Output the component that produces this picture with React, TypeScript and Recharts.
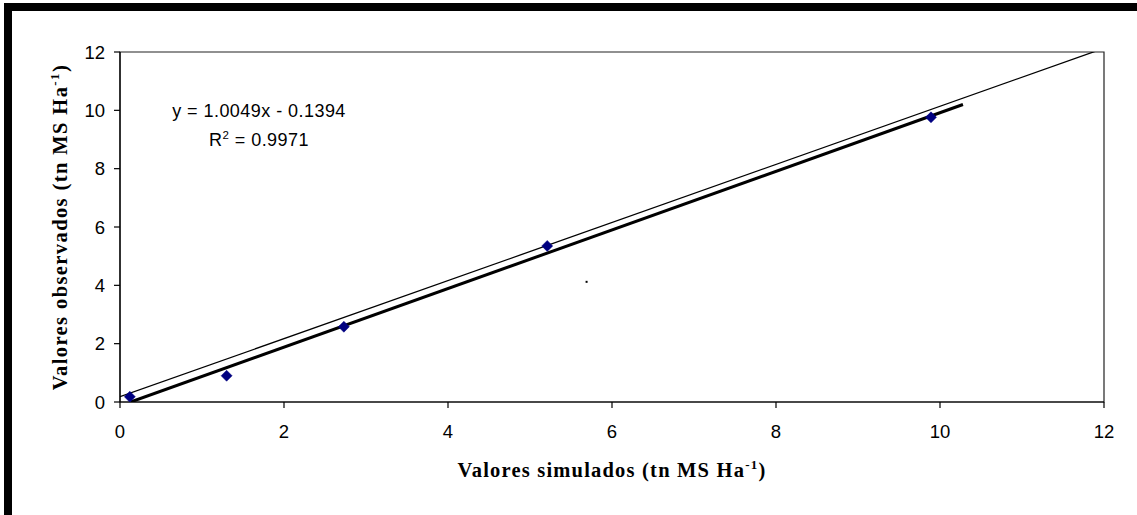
import React from "react";
import {
  ComposedChart,
  Scatter,
  XAxis,
  YAxis,
  ReferenceArea,
  Label,
} from "recharts";

const xTicks = [0, 2, 4, 6, 8, 10, 12];
const yTicks = [0, 2, 4, 6, 8, 10, 12];

const observed = [
  { x: 0.12, y: 0.18 },
  { x: 1.3, y: 0.9 },
  { x: 2.73, y: 2.58 },
  { x: 5.21, y: 5.35 },
  { x: 9.89, y: 9.76 },
];

const trendLine = [
  { x: 0.13, y: 0.0 },
  { x: 10.28, y: 10.2 },
];

const thinLine = [
  { x: 0.0, y: 0.18 },
  { x: 11.95, y: 12.08 },
];

const strayDot = [{ x: 5.69, y: 4.12 }];

const equationText = "y = 1.0049x - 0.1394";
const r2Value = "0.9971";

const SANS = "'Liberation Sans', Arial, sans-serif";
const SERIF = "'Liberation Serif', 'Times New Roman', serif";

const Diamond = (props: any) => {
  const { cx, cy } = props;
  if (cx == null || cy == null) return <g />;
  const r = 5.5;
  return (
    <path
      d={`M${cx},${cy - r} L${cx + r},${cy} L${cx},${cy + r} L${cx - r},${cy} Z`}
      fill="#000080"
      stroke="#000080"
      strokeWidth={0.5}
    />
  );
};

const NoShape = () => <g />;

const TinyDot = (props: any) => {
  const { cx, cy } = props;
  if (cx == null || cy == null) return <g />;
  return <rect x={cx - 1} y={cy - 1} width={2} height={2} fill="#000" />;
};

const XLabel = (props: any) => {
  const vb = props.viewBox || {};
  const cx = vb.x + vb.width / 2;
  return (
    <text
      x={cx}
      y={477}
      textAnchor="middle"
      fontFamily={SERIF}
      fontWeight="bold"
      fontSize={20.5}
      letterSpacing={1.2}
      fill="#000"
    >
      Valores simulados (tn MS Ha
      <tspan dy={-8} fontSize={13}>
        -1
      </tspan>
      <tspan dy={8}>)</tspan>
    </text>
  );
};

const YLabel = (props: any) => {
  const vb = props.viewBox || {};
  const cy = vb.y + vb.height / 2;
  const x = 67;
  return (
    <text
      x={x}
      y={cy}
      transform={`rotate(-90, ${x}, ${cy})`}
      textAnchor="middle"
      fontFamily={SERIF}
      fontWeight="bold"
      fontSize={20.5}
      letterSpacing={1.4}
      fill="#000"
    >
      Valores observados (tn MS Ha
      <tspan dy={-8} fontSize={13}>
        -1
      </tspan>
      <tspan dy={8}>)</tspan>
    </text>
  );
};

export default function App() {
  return (
    <div
      style={{
        position: "absolute",
        left: 0,
        top: 0,
        width: 1137,
        height: 515,
        background: "#fff",
        overflow: "hidden",
      }}
    >
      <div
        style={{
          position: "absolute",
          left: 4,
          top: 3,
          width: 1137,
          height: 515,
          borderTop: "8px solid #000",
          borderLeft: "8px solid #000",
          boxSizing: "border-box",
        }}
      />
      <div style={{ position: "absolute", left: 0, top: 0 }}>
        <ComposedChart
          width={1137}
          height={515}
          margin={{ top: 52, right: 33, bottom: 83, left: 60 }}
        >
          <XAxis
            type="number"
            dataKey="x"
            domain={[0, 12]}
            ticks={xTicks}
            allowDataOverflow
            axisLine={{ stroke: "#000", strokeWidth: 1.2 }}
            tickLine={{ stroke: "#000", strokeWidth: 1.2 }}
            tickSize={6}
            tickMargin={17}
            height={30}
            tick={{ fill: "#000", fontFamily: SANS, fontSize: 18.5 }}
          >
            <Label content={<XLabel />} position="bottom" />
          </XAxis>
          <YAxis
            type="number"
            dataKey="y"
            domain={[0, 12]}
            ticks={yTicks}
            allowDataOverflow
            width={60}
            axisLine={{ stroke: "#000", strokeWidth: 1.2 }}
            tickLine={{ stroke: "#000", strokeWidth: 1.2 }}
            tickSize={6}
            tickMargin={9}
            tick={{ fill: "#000", fontFamily: SANS, fontSize: 18.5 }}
          >
            <Label content={<YLabel />} position="left" />
          </YAxis>
          <ReferenceArea
            x1={0}
            x2={12}
            y1={0}
            y2={12}
            fill="none"
            stroke="#222"
            strokeWidth={1.2}
            ifOverflow="visible"
          />
          <Scatter
            data={thinLine}
            line={{ stroke: "#000", strokeWidth: 1.3 }}
            shape={NoShape}
            isAnimationActive={false}
          />
          <Scatter
            data={trendLine}
            line={{ stroke: "#000", strokeWidth: 3 }}
            shape={NoShape}
            isAnimationActive={false}
          />
          <Scatter
            data={observed}
            shape={Diamond}
            isAnimationActive={false}
          />
          <Scatter
            data={strayDot}
            shape={TinyDot}
            isAnimationActive={false}
          />
        </ComposedChart>
      </div>
      <svg
        width={1137}
        height={515}
        style={{ position: "absolute", left: 0, top: 0, pointerEvents: "none" }}
      >
        <text
          x={259}
          y={117}
          textAnchor="middle"
          fontFamily={SANS}
          fontSize={18}
          letterSpacing={0.45}
          fill="#000"
        >
          {equationText}
        </text>
        <text
          x={259}
          y={146}
          textAnchor="middle"
          fontFamily={SANS}
          fontSize={18}
          letterSpacing={0.45}
          fill="#000"
        >
          R
          <tspan dy={-7} fontSize={11.5}>
            2
          </tspan>
          <tspan dy={7}>{" = " + r2Value}</tspan>
        </text>
      </svg>
    </div>
  );
}
